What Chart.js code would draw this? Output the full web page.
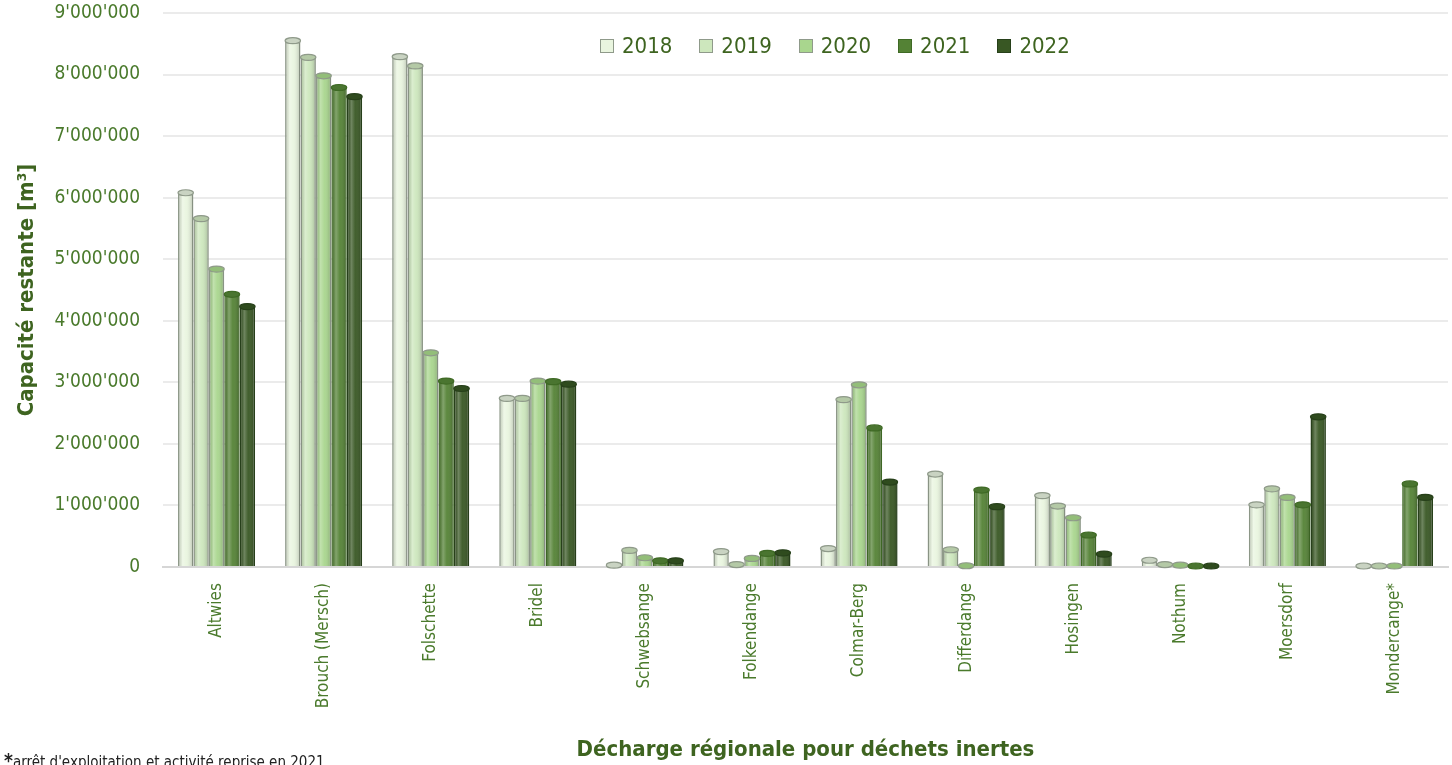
<!DOCTYPE html>
<html>
<head>
<meta charset="utf-8">
<script src="https://cdn.jsdelivr.net/npm/chart.js@4.4.1/dist/chart.umd.min.js"></script>
<style>
  html, body { margin: 0; padding: 0; background: #ffffff; overflow: hidden; }
  #wrap { position: relative; width: 1452px; height: 765px; }
  #note { position: absolute; left: 4px; top: 749px; font-family: 'DejaVu Sans Condensed', 'Liberation Sans Narrow', sans-serif; font-size: 15px; color: #222; white-space: nowrap; }
  #note b { font-size: 19px; }
  #legend { position: absolute; left: 600px; top: 33px; display: flex; align-items: center; gap: 27px;
    font-family: 'DejaVu Sans Condensed', 'Liberation Sans Narrow', sans-serif; font-size: 22px; color: #3E6420; }
  #legend .it { display: flex; align-items: center; }
  #legend .bx { width: 12px; height: 12px; border: 1.5px solid; margin-right: 8px; }
</style>
</head>
<body>
<div id="wrap">
  <canvas id="c" width="1452" height="765"></canvas>
  <div id="legend"></div>
  <div id="note"><b>*</b>arrêt d'exploitation et activité reprise en 2021</div>
</div>
<script>
const categories = ['Altwies', 'Brouch (Mersch)', 'Folschette', 'Bridel', 'Schwebsange', 'Folkendange',
  'Colmar-Berg', 'Differdange', 'Hosingen', 'Nothum', 'Moersdorf', 'Mondercange*'];
const years = ['2018', '2019', '2020', '2021', '2022'];
const v2018 = [6080000, 8550000, 8290000, 2740000, 30000, 250000, 300000, 1510000, 1160000, 110000, 1010000, 5000];
const v2019 = [5660000, 8280000, 8140000, 2740000, 270000, 40000, 2720000, 280000, 990000, 40000, 1270000, 5000];
const v2020 = [4840000, 7980000, 3480000, 3020000, 150000, 140000, 2960000, 20000, 800000, 30000, 1130000, 5000];
const v2021 = [4430000, 7790000, 3020000, 3010000, 100000, 220000, 2260000, 1250000, 520000, 10000, 1010000, 1350000];
const v2022 = [4230000, 7640000, 2900000, 2970000, 100000, 230000, 1380000, 980000, 210000, 5000, 2440000, 1130000];
const yMin = 0, yMax = 9000000, yStep = 1000000;

const seriesValues = [v2018, v2019, v2020, v2021, v2022];
const fills = ['#E9F5DF', '#CDE7BD', '#A9D68E', '#548235', '#385723'];
const edges = ['#8F9A8A', '#8F9A8A', '#8F9A8A', '#3F6A25', '#27401A'];
const caps = ['#C9D3C2', '#B4C9A6', '#93BE79', '#4A7530', '#2F4B1E'];

const FONT = "'DejaVu Sans Condensed', 'Liberation Sans Narrow', sans-serif";
const TXT = '#4A7A2C';
const TITLE = '#3E6420';

function fmt(v) {
  return String(v).replace(/\B(?=(\d{3})+(?!\d))/g, "'");
}

function noPad(scale) {
  scale.paddingTop = 0; scale.paddingBottom = 0;
  scale.paddingLeft = 0; scale.paddingRight = 0;
}

const cylinder = {
  id: 'cylinder',
  afterDatasetsDraw(chart) {
    const ctx = chart.ctx;
    chart.data.datasets.forEach((ds, di) => {
      const meta = chart.getDatasetMeta(di);
      meta.data.forEach(el => {
        const p = el.getProps(['x', 'y', 'base', 'width'], true);
        const l = p.x - p.width / 2, r = p.x + p.width / 2;
        const top = Math.min(p.y, p.base), bot = Math.max(p.y, p.base);
        ctx.save();
        if (bot - top > 1) {
          const g = ctx.createLinearGradient(l, 0, r, 0);
          g.addColorStop(0, 'rgba(0,0,0,0.12)');
          g.addColorStop(0.3, 'rgba(255,255,255,0.28)');
          g.addColorStop(0.55, 'rgba(255,255,255,0.05)');
          g.addColorStop(1, 'rgba(0,0,0,0.22)');
          ctx.fillStyle = g;
          ctx.fillRect(l + 1, top, p.width - 2, bot - top);
        }
        ctx.beginPath();
        ctx.ellipse(p.x, top, p.width / 2, 3, 0, 0, Math.PI * 2);
        ctx.fillStyle = caps[di];
        ctx.fill();
        ctx.lineWidth = 1.2;
        ctx.strokeStyle = edges[di];
        ctx.stroke();
        ctx.restore();
      });
    });
  }
};

const chart = new Chart(document.getElementById('c'), {
  type: 'bar',
  data: {
    labels: categories,
    datasets: years.map((y, i) => ({
      label: y,
      data: seriesValues[i],
      backgroundColor: fills[i],
      borderColor: edges[i],
      borderWidth: 1.5,
      borderSkipped: 'bottom',
      barPercentage: 1.0,
      categoryPercentage: 0.72
    }))
  },
  options: {
    responsive: false,
    devicePixelRatio: 1,
    animation: false,
    layout: { padding: { left: 0, right: 4, top: 13, bottom: 0 } },
    plugins: {
      legend: { display: false },
      tooltip: { enabled: false }
    },
    scales: {
      x: {
        afterFit(scale) { scale.height = 198; noPad(scale); },
        grid: { display: false, drawTicks: false },
        border: { display: true, color: '#D6D6D6', width: 2 },
        ticks: {
          font: { family: FONT, size: 17 },
          color: TXT,
          maxRotation: 90,
          minRotation: 90,
          padding: 16,
          autoSkip: false
        },
        title: {
          display: true,
          text: 'Décharge régionale pour déchets inertes',
          font: { family: FONT, size: 22, weight: 'bold' },
          color: TITLE,
          padding: { top: 0, bottom: 2 }
        }
      },
      y: {
        min: yMin,
        max: yMax,
        afterFit(scale) { scale.width = 163; noPad(scale); },
        grid: { color: '#EBEBEB', lineWidth: 2, drawTicks: false },
        border: { display: false },
        ticks: {
          stepSize: yStep,
          font: { family: FONT, size: 19 },
          color: TXT,
          padding: 23,
          callback: v => fmt(v)
        },
        title: {
          display: true,
          text: 'Capacité restante [m³]',
          font: { family: FONT, size: 22, weight: 'bold' },
          color: TITLE,
          padding: { top: 14, bottom: 0 }
        }
      }
    }
  },
  plugins: [cylinder]
});

const legendEl = document.getElementById('legend');
chart.data.datasets.forEach(ds => {
  const it = document.createElement('div');
  it.className = 'it';
  const bx = document.createElement('span');
  bx.className = 'bx';
  bx.style.background = ds.backgroundColor;
  bx.style.borderColor = ds.borderColor;
  const tx = document.createElement('span');
  tx.textContent = ds.label;
  it.appendChild(bx);
  it.appendChild(tx);
  legendEl.appendChild(it);
});
</script>
</body>
</html>
